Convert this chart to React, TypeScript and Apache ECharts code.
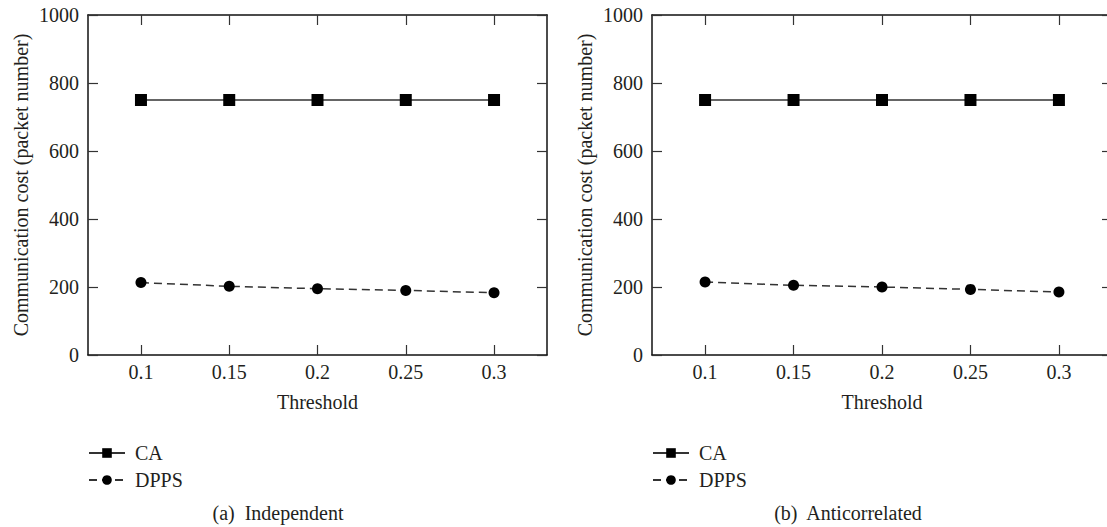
import React, { useEffect, useRef } from "react";
import * as echarts from "echarts";

const thresholds = [0.1, 0.15, 0.2, 0.25, 0.3];
const caIndependent = [750, 750, 750, 750, 750];
const dppsIndependent = [213, 202, 195, 190, 183];
const caAnticorrelated = [750, 750, 750, 750, 750];
const dppsAnticorrelated = [215, 205, 200, 193, 185];
const yTicks = [0, 200, 400, 600, 800, 1000];
const captions = ["(a)  Independent", "(b)  Anticorrelated"];

const FONT = "Liberation Serif, Times New Roman, DejaVu Serif, serif";
const TXT = "#231f20";

export default function App() {
  const ref = useRef<HTMLDivElement>(null);
  useEffect(() => {
    if (!ref.current) return;
    const chart = echarts.init(ref.current, undefined, { renderer: "svg" });
    const grids = [
      { left: 88, top: 15, width: 459, height: 340 },
      { left: 652, top: 15, width: 460, height: 340 },
    ];
    const xAxes: any[] = [];
    const yAxes: any[] = [];
    grids.forEach((_, gi) => {
      const common = {
        type: "value",
        gridIndex: gi,
        min: 0.07,
        max: 0.33,
        splitLine: { show: false },
        axisLine: { show: true, onZero: false, lineStyle: { color: "#111", width: 1.5 } },
        axisTick: { show: true, inside: true, length: 10, customValues: thresholds, lineStyle: { color: "#333", width: 1.2 } },
      };
      xAxes.push({
        ...common,
        position: "bottom",
        name: "Threshold",
        nameLocation: "middle",
        nameGap: 37,
        nameTextStyle: { fontFamily: FONT, fontSize: 20, color: TXT },
        axisLabel: { show: true, customValues: thresholds, margin: 7, fontFamily: FONT, fontSize: 20, color: TXT, formatter: (v: number) => String(v) },
      });
      xAxes.push({
        ...common,
        position: "top",
        axisLabel: { show: false },
      });
      const ycommon = {
        type: "value",
        gridIndex: gi,
        min: 0,
        max: 1000,
        interval: 200,
        splitLine: { show: false },
        axisLine: { show: true, onZero: false, lineStyle: { color: "#111", width: 1.5 } },
        axisTick: { show: true, inside: true, length: 10, lineStyle: { color: "#333", width: 1.2 } },
      };
      yAxes.push({
        ...ycommon,
        position: "left",
        name: "Communication cost (packet number)",
        nameLocation: "middle",
        nameGap: 57,
        nameTextStyle: { fontFamily: FONT, fontSize: 20, color: TXT },
        axisLabel: { show: true, margin: 9, fontFamily: FONT, fontSize: 20, color: TXT, formatter: (v: number) => (yTicks.includes(v) ? String(v) : "") },
      });
      yAxes.push({
        ...ycommon,
        position: "right",
        axisLabel: { show: false },
      });
    });

    const mk = (vals: number[]) => thresholds.map((t, i) => [t, vals[i]]);
    const caStyle = {
      type: "line",
      symbol: "rect",
      symbolSize: 12,
      itemStyle: { color: "#000" },
      lineStyle: { color: "#333", width: 1.5, type: "solid" },
    };
    const dpStyle = {
      type: "line",
      symbol: "circle",
      symbolSize: 11,
      itemStyle: { color: "#000" },
      lineStyle: { color: "#333", width: 1.5, type: [8, 5] },
    };
    const series = [
      { ...caStyle, name: "CA", xAxisIndex: 0, yAxisIndex: 0, data: mk(caIndependent) },
      { ...dpStyle, name: "DPPS", xAxisIndex: 0, yAxisIndex: 0, data: mk(dppsIndependent) },
      { ...caStyle, name: "CA", xAxisIndex: 2, yAxisIndex: 2, data: mk(caAnticorrelated) },
      { ...dpStyle, name: "DPPS", xAxisIndex: 2, yAxisIndex: 2, data: mk(dppsAnticorrelated) },
    ];
    const legendBase = {
      orient: "vertical",
      top: 438,
      itemWidth: 36,
      itemHeight: 12,
      itemGap: 7,
      data: ["CA", "DPPS"],
      textStyle: { fontFamily: FONT, fontSize: 20, color: TXT, padding: [0, 0, 0, 5] },
    };
    chart.setOption({
      animation: false,
      backgroundColor: "#fff",
      textStyle: { fontFamily: FONT },
      grid: grids.map((g) => ({ ...g, containLabel: false })),
      xAxis: xAxes,
      yAxis: yAxes,
      series,
      legend: [
        { ...legendBase, left: 83 },
        { ...legendBase, left: 647 },
      ],
      graphic: [
        { type: "text", x: 278, y: 513, style: { text: captions[0], fontFamily: FONT, fontSize: 20, fill: TXT, textAlign: "center", textVerticalAlign: "middle" } },
        { type: "text", x: 848, y: 513, style: { text: captions[1], fontFamily: FONT, fontSize: 20, fill: TXT, textAlign: "center", textVerticalAlign: "middle" } },
      ],
    });
    return () => chart.dispose();
  }, []);
  return <div ref={ref} style={{ position: "fixed", left: 0, top: 0, width: 1116, height: 527, background: "#fff" }} />;
}
